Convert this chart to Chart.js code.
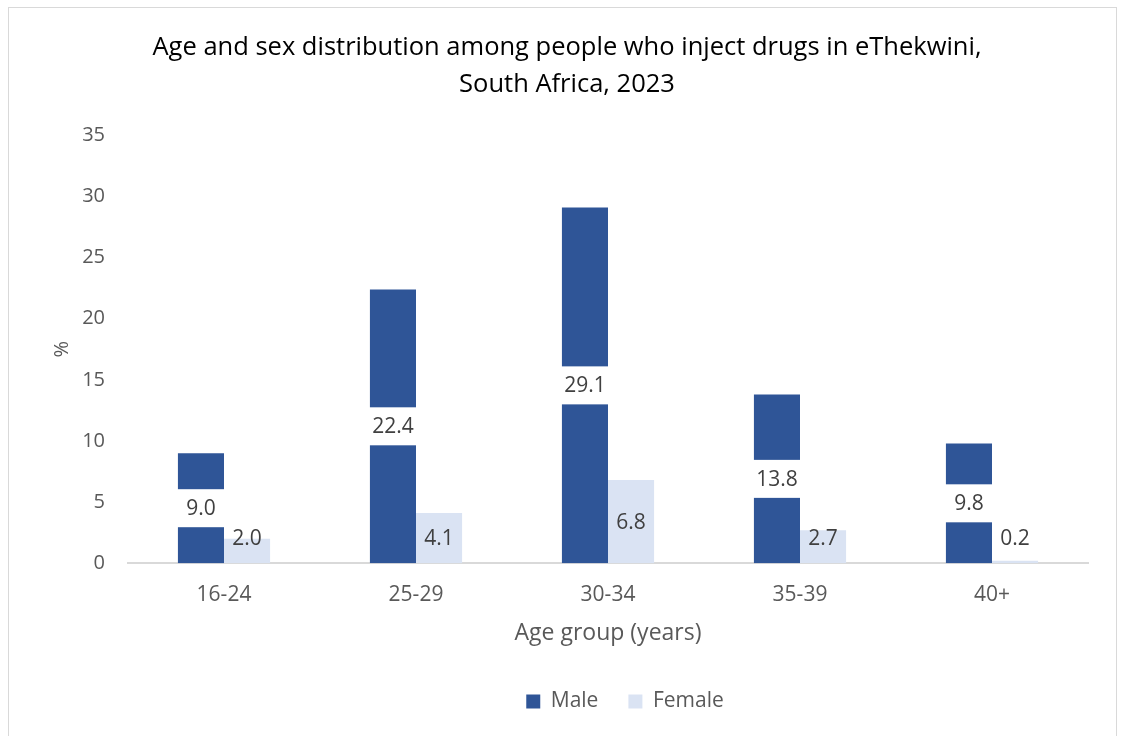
<!DOCTYPE html>
<html>
<head>
<meta charset="utf-8">
<script src="https://cdn.jsdelivr.net/npm/chart.js@4"></script>
<style>
  html, body { margin: 0; padding: 0; background: #fff; }
  #frame {
    position: absolute; left: 8px; top: 7px;
    width: 1109px; height: 740px;
    border: 1px solid #d9d9d9; box-sizing: border-box;
  }
  #wrap { position: absolute; left: 0; top: 0; width: 1107px; height: 727px; }
</style>
</head>
<body>
<div id="frame"><div id="wrap"><canvas id="myChart"></canvas></div></div>
<script>
  'use strict';

  const ageGroups = ['16-24', '25-29', '30-34', '35-39', '40+'];
  const maleValues = [9.0, 22.4, 29.1, 13.8, 9.8];
  const femaleValues = [2.0, 4.1, 6.8, 2.7, 0.2];
  const yTicks = [0, 5, 10, 15, 20, 25, 30, 35];

  const MALE = '#2f5597';
  const FEMALE = '#dae3f3';
  const FONT = "'Open Sans', 'Noto Sans', sans-serif";

  // Value labels: males get a white box over the bar middle, females sit inside
  const valueLabels = {
    id: 'valueLabels',
    afterDatasetsDraw(chart) {
      const ctx = chart.ctx;
      ctx.save();
      ctx.font = '21px ' + FONT;
      ctx.textAlign = 'center';
      ctx.textBaseline = 'middle';
      chart.data.datasets.forEach((ds, di) => {
        chart.getDatasetMeta(di).data.forEach((bar, i) => {
          const txt = ds.data[i].toFixed(1);
          let cy = (bar.y + bar.base) / 2;
          if (di === 0) {
            ctx.fillStyle = '#ffffff';
            ctx.fillRect(bar.x - bar.width / 2 - 1, cy - 19, bar.width + 2, 38);
          } else {
            cy = Math.min(cy, bar.base - 25);
          }
          ctx.fillStyle = '#404040';
          ctx.fillText(txt, bar.x, cy + 1);
        });
      });
      ctx.restore();
    }
  };

  // Nudge the legend a bit to the right of the canvas centre
  const legendShift = {
    id: 'legendShift',
    afterLayout(chart) {
      if (chart.legend) {
        chart.legend.left += 58;
        chart.legend.right += 58;
      }
    }
  };

  new Chart(document.getElementById('myChart'), {
    type: 'bar',
    data: {
      labels: ageGroups,
      datasets: [
        { label: 'Male', data: maleValues, backgroundColor: MALE,
          categoryPercentage: 0.48, barPercentage: 1.0 },
        { label: 'Female', data: femaleValues, backgroundColor: FEMALE,
          categoryPercentage: 0.48, barPercentage: 1.0 }
      ]
    },
    options: {
      responsive: true,
      maintainAspectRatio: false,
      animation: false,
      layout: { padding: { left: 37, right: 28, top: 14, bottom: 13 } },
      plugins: {
        title: {
          display: true,
          text: ['Age and sex distribution among people who inject drugs in eThekwini,',
                 'South Africa, 2023'],
          color: '#000000',
          font: { family: FONT, size: 25.5, weight: 'normal', lineHeight: 1.42 },
          padding: { top: 8, bottom: 33 }
        },
        legend: {
          position: 'bottom',
          labels: {
            color: '#595959',
            font: { family: FONT, size: 21 },
            boxWidth: 14, boxHeight: 14, padding: 30
          }
        },
        tooltip: { enabled: false }
      },
      scales: {
        x: {
          afterFit(axis) { axis.height -= 11; },
          grid: { display: false, drawTicks: false },
          border: { color: '#d9d9d9', width: 2 },
          ticks: { color: '#595959', font: { family: FONT, size: 21 }, padding: 19 },
          title: {
            display: true, text: 'Age group (years)', color: '#595959',
            font: { family: FONT, size: 23 }, padding: { top: 4, bottom: 14 }
          }
        },
        y: {
          min: 0, max: 35,
          afterBuildTicks(axis) { axis.ticks = yTicks.map(v => ({ value: v })); },
          afterFit(axis) { axis.width = 82; },
          grid: { display: false, drawTicks: false },
          border: { display: false },
          ticks: { color: '#595959', font: { family: FONT, size: 20 }, padding: 23 },
          title: {
            display: true, text: '%', color: '#595959',
            font: { family: FONT, size: 20 }, padding: { bottom: 0 }
          }
        }
      }
    },
    plugins: [valueLabels, legendShift]
  });
</script>
</body>
</html>
